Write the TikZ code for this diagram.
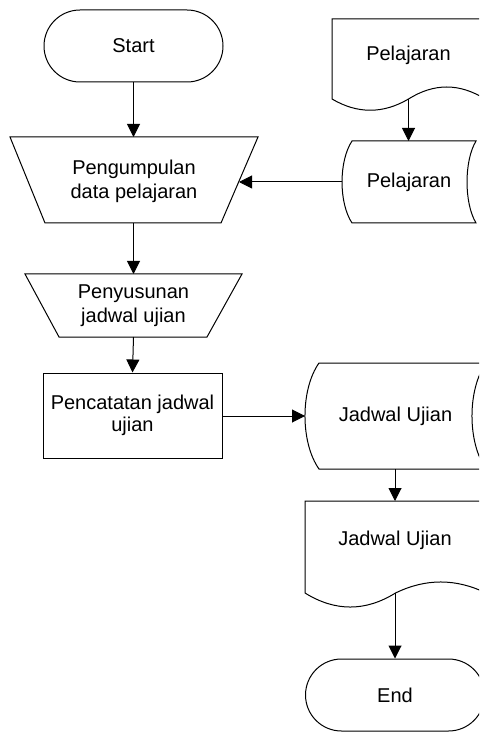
\documentclass[tikz,border=0pt]{standalone}
\usepackage{fontspec}
\setmainfont{Liberation Sans}
\usetikzlibrary{arrows.meta}
\begin{document}
\begin{tikzpicture}[x=0.5pt,y=-0.5pt,
  shapeline/.style={draw=black,line width=0.5pt,fill=white},
  label/.style={align=center,font=\fontsize{10}{12}\selectfont,inner sep=0pt},
  terminator/.style={shapeline,rounded corners=18pt,minimum width=89.5pt,minimum height=36pt,
    font=\fontsize{10}{12}\selectfont,inner sep=0pt},
  process/.style={shapeline,minimum width=89.5pt,minimum height=42.5pt,align=center,
    font=\fontsize{10}{11}\selectfont,inner sep=0pt},
  flow/.style={draw=black,line width=0.5pt,-{Triangle[length=6.5pt,width=6.5pt]}}]
\useasboundingbox (0,0) rectangle (479,732);
\clip (0,0) rectangle (479,732);

% start terminator
\node[terminator] (start) at (133.5,46) {Start};

% manual operation: collecting lesson data
\draw[shapeline] (10,137) -- (258,137) -- (221,223) -- (45,223) -- cycle;
\node[label] (kumpul) at (134,181) {Pengumpulan\\data pelajaran};
\coordinate (kumpul-n) at (133.5,137);
\coordinate (kumpul-s) at (133.5,223);
\coordinate (kumpul-e) at (239,182);

% manual operation: arranging the exam schedule
\draw[shapeline] (25,274) -- (242,274) -- (207,337) -- (59,337) -- cycle;
\node[label] (susun) at (133.5,305.5) {Penyusunan\\jadwal ujian};
\coordinate (susun-n) at (133.5,274);
\coordinate (susun-s) at (133.5,337);

% process: recording the schedule
\node[process] (catat) at (132.5,415.5) {Pencatatan jadwal\\ujian};

% document: lessons
\draw[shapeline] (332,99) -- (332,19) -- (485,19) -- (485,99)
  .. controls (459.5,83) and (434,83) .. (408.5,99)
  .. controls (383,114) and (357.5,114) .. (332,99) -- cycle;
\node[label] (docpel) at (408.5,55) {Pelajaran};
\coordinate (docpel-s) at (408.5,99);

% stored data: lessons
\draw[shapeline] (352,141) -- (476,141)
  .. controls (464,161) and (464,203) .. (476,223) -- (352,223)
  .. controls (338.7,203) and (338.7,161) .. (352,141) -- cycle;
\node[label] (dbpel) at (409,182) {Pelajaran};
\coordinate (dbpel-n) at (408.5,141);
\coordinate (dbpel-w) at (342,182);

% stored data: exam schedule
\draw[shapeline] (319,363) -- (486,363)
  .. controls (467.3,389.5) and (467.3,442.5) .. (486,469) -- (319,469)
  .. controls (300.3,442.5) and (300.3,389.5) .. (319,363) -- cycle;
\node[label] (dbjad) at (395.5,416) {Jadwal Ujian};
\coordinate (dbjad-w) at (305,416);
\coordinate (dbjad-s) at (395,469);

% document: exam schedule
\draw[shapeline] (305,593) -- (305,501) -- (486,501) -- (486,593)
  .. controls (455.8,578.3) and (425.7,578.3) .. (395.5,593)
  .. controls (365.3,611.7) and (335.2,611.7) .. (305,593) -- cycle;
\node[label] (docjad) at (395,540) {Jadwal Ujian};
\coordinate (docjad-n) at (395,501);
\coordinate (docjad-s) at (395,593);

% end terminator
\node[terminator] (end) at (395,695) {End};

% connectors
\draw[flow] (start.south) -- (kumpul-n);
\draw[flow] (kumpul-s) -- (susun-n);
\draw[flow] (susun-s) -- (catat.north);
\draw[flow] (docpel-s) -- (dbpel-n);
\draw[flow] (dbpel-w) -- (kumpul-e);
\draw[flow] (catat.east |- dbjad-w) -- (dbjad-w);
\draw[flow] (dbjad-s) -- (docjad-n);
\draw[flow] (docjad-s) -- (end.north);
\end{tikzpicture}
\end{document}
